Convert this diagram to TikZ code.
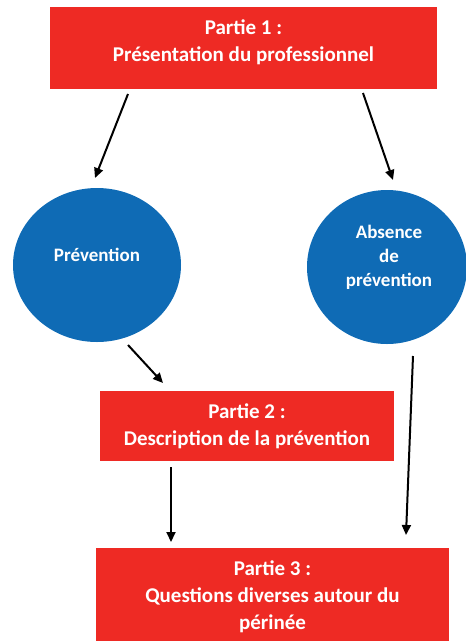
\documentclass[tikz,border=0pt]{standalone}
\usepackage{fontspec}
\setmainfont{Carlito}
\usetikzlibrary{arrows.meta}
\definecolor{boxred}{HTML}{EE2A24}
\definecolor{circblue}{HTML}{0F6BB5}
\begin{document}
\begin{tikzpicture}[x=1pt,y=-1pt,
  redbox/.style={text=white,font=\bfseries\fontsize{21}{27}\selectfont,align=center,inner sep=0pt},
  circtext/.style={text=white,font=\bfseries\fontsize{19}{24}\selectfont,align=center,inner sep=0pt},
  arr/.style={-{Triangle[length=10pt,width=9pt]},line width=2pt,black}]
\useasboundingbox (0,0) rectangle (466,641);
\fill[boxred] (50,7) rectangle (437,89);
\node[redbox] (p1) at (243.5,42) {Partie 1 :\\Présentation du professionnel};
\fill[circblue] (97,265) ellipse [x radius=84, y radius=77];
\node[circtext] (prev) at (97,255) {Prévention};
\fill[circblue] (387,267) ellipse [x radius=80, y radius=77];
\node[circtext] (abs) at (389,257) {Absence\\de\\prévention};
\fill[boxred] (100,391) rectangle (394,461);
\node[redbox] (p2) at (247,426) {Partie 2 :\\Description de la prévention};
\fill[boxred] (96,548) rectangle (449,641);
\node[redbox] (p3) at (272.5,597) {Partie 3 :\\Questions diverses autour du\\périnée};
\coordinate (a1s) at (128,94); \coordinate (a1e) at (95,178);
\coordinate (a2s) at (363,93); \coordinate (a2e) at (393,180);
\coordinate (a3s) at (128,345); \coordinate (a3e) at (163,383);
\coordinate (a4s) at (413,356); \coordinate (a4e) at (406,535);
\coordinate (a5s) at (171,467); \coordinate (a5e) at (171,542);
\draw[arr] (a1s) -- (a1e);
\draw[arr] (a2s) -- (a2e);
\draw[arr] (a3s) -- (a3e);
\draw[arr] (a4s) -- (a4e);
\draw[arr] (a5s) -- (a5e);
\end{tikzpicture}
\end{document}
